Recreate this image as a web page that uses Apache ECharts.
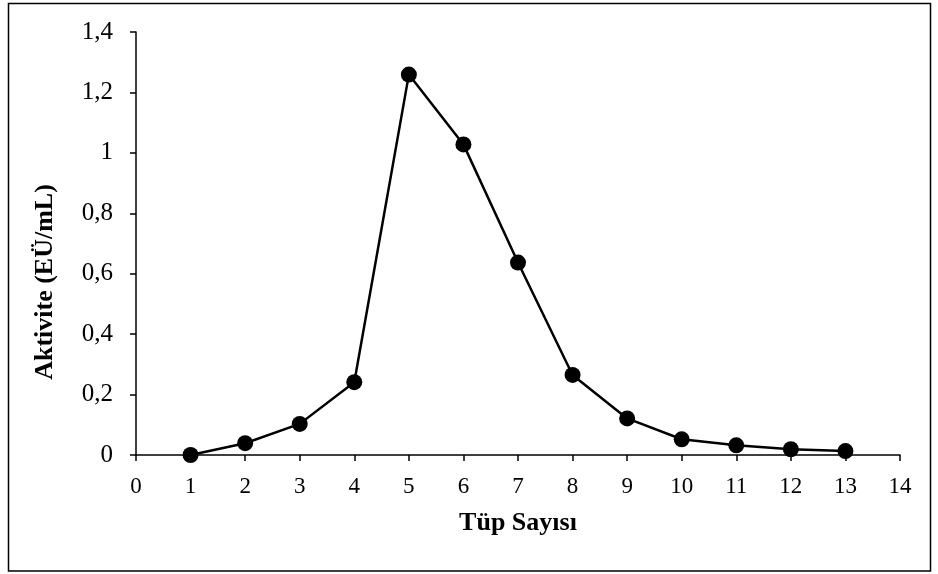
<!DOCTYPE html>
<html>
<head>
<meta charset="utf-8">
<script src="https://cdn.jsdelivr.net/npm/echarts@6/dist/echarts.min.js"></script>
<style>
  html, body { margin: 0; padding: 0; background: #fff; }
  #chart { width: 938px; height: 574px; }
</style>
</head>
<body>
<div id="chart"></div>
<script>
// Tube number vs. enzyme activity
const tubes = [1, 2, 3, 4, 5, 6, 7, 8, 9, 10, 11, 12, 13];
const activity = [0.0, 0.039, 0.103, 0.241, 1.259, 1.028, 0.637, 0.265, 0.121, 0.052, 0.032, 0.019, 0.013];
const xName = 'Tüp Sayısı';
const yName = 'Aktivite (EÜ/mL)';

const serif = '"Liberation Serif", "Times New Roman", serif';
const chart = echarts.init(document.getElementById('chart'));

chart.setOption({
  animation: false,
  backgroundColor: '#fff',
  graphic: [
    {
      // outer frame
      type: 'rect',
      shape: { x: 8.5, y: 3.5, width: 922, height: 567.5 },
      style: { fill: 'none', stroke: '#000', lineWidth: 1.5 },
      silent: true
    },
    {
      // vertical axis title, set a little below the plot centre
      type: 'text',
      x: 45, y: 282,
      rotation: Math.PI / 2,
      style: {
        text: yName,
        font: 'bold 26px ' + serif,
        fill: '#000',
        align: 'center',
        verticalAlign: 'middle'
      },
      silent: true
    }
  ],
  grid: { left: 136, right: 38, top: 32, bottom: 119 },
  xAxis: {
    type: 'value',
    min: 0, max: 14, interval: 1,
    name: xName,
    nameLocation: 'middle',
    nameGap: 55,
    nameTextStyle: { fontFamily: serif, fontWeight: 'bold', fontSize: 26, color: '#000' },
    axisLine: { onZero: false, lineStyle: { color: '#000', width: 1.5 } },
    axisTick: { inside: false, length: 6, lineStyle: { color: '#000', width: 1.5 } },
    axisLabel: { fontFamily: serif, fontSize: 23, color: '#000', margin: 20 },
    splitLine: { show: false }
  },
  yAxis: {
    type: 'value',
    min: 0, max: 1.4, interval: 0.2,
    axisLine: { show: true, lineStyle: { color: '#000', width: 1.5 } },
    axisTick: { show: true, inside: false, length: 6, lineStyle: { color: '#000', width: 1.5 } },
    axisLabel: {
      fontFamily: serif, fontSize: 25, color: '#000', margin: 23,
      formatter: v => String(Math.round(v * 10) / 10).replace('.', ',')
    },
    splitLine: { show: false }
  },
  series: [{
    type: 'line',
    data: tubes.map((t, i) => [t, activity[i]]),
    symbol: 'circle',
    symbolSize: 16,
    lineStyle: { color: '#000', width: 2.5 },
    itemStyle: { color: '#000' },
    z: 5
  }]
});
</script>
</body>
</html>
